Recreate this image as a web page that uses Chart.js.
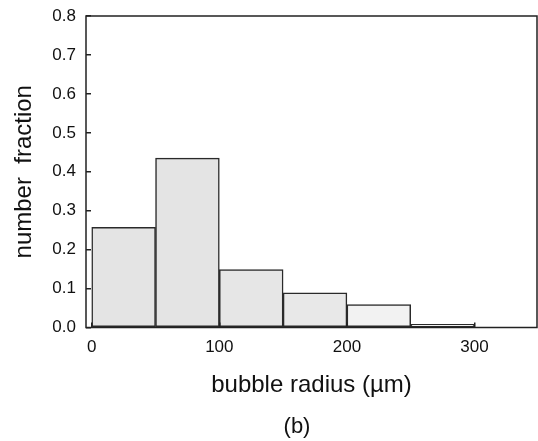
<!DOCTYPE html>
<html>
<head>
<meta charset="utf-8">
<script src="https://cdn.jsdelivr.net/npm/chart.js@4.4.1/dist/chart.umd.min.js"></script>
<style>
  html, body { margin: 0; padding: 0; background: #ffffff; }
  #wrap { width: 538px; height: 441px; position: relative; }
</style>
</head>
<body>
<div id="wrap"><canvas id="c"></canvas></div>
<script>
// ---- data ----
const binStarts = [0, 50, 100, 150, 200, 250];
const binWidth = 50;
const fractions = [0.257, 0.435, 0.149, 0.089, 0.059, 0.008];
const xTicks = [0, 100, 200, 300];
const xTickLabels = ['0', '100', '200', '300'];
const yTicks = [0, 0.1, 0.2, 0.3, 0.4, 0.5, 0.6, 0.7, 0.8];
const yTickLabels = ['0.0', '0.1', '0.2', '0.3', '0.4', '0.5', '0.6', '0.7', '0.8'];
const xTitle = 'bubble radius (\u00b5m)';
const yTitle = 'number  fraction';
const caption = '(b)';

const FONT = '"Liberation Sans", Arial, Helvetica, sans-serif';
const INK = '#111111';
const LINE = '#222222';

const barFills = ['#e4e4e4', '#e4e4e4', '#e6e6e6', '#e8e8e8', '#f2f2f2', '#ffffff'];

const framePlugin = {
  id: 'frame',
  afterDatasetsDraw(chart) {
    const { ctx, chartArea: a } = chart;
    ctx.save();
    ctx.strokeStyle = LINE;
    ctx.lineWidth = 1.5;
    ctx.strokeRect(a.left, a.top, a.right - a.left, a.bottom - a.top);
    ctx.restore();
  }
};

const captionPlugin = {
  id: 'caption',
  afterDraw(chart) {
    const { ctx, chartArea: a } = chart;
    ctx.save();
    ctx.font = '22px ' + FONT;
    ctx.fillStyle = INK;
    ctx.textAlign = 'center';
    ctx.textBaseline = 'alphabetic';
    ctx.fillText(caption, (a.left + a.right) / 2 - 14.5, chart.height - 8);
    ctx.restore();
  }
};

new Chart(document.getElementById('c'), {
  type: 'bar',
  data: {
    datasets: [{
      data: binStarts.map((s, i) => ({ x: s + binWidth / 2, y: fractions[i] })),
      backgroundColor: barFills,
      borderColor: '#2a2a2a',
      borderWidth: 1.5,
      borderSkipped: false,
      barPercentage: 1.0,
      categoryPercentage: 1.0
    }]
  },
  options: {
    responsive: true,
    maintainAspectRatio: false,
    animation: false,
    devicePixelRatio: 1,
    layout: { padding: { left: 0, right: 1, top: 16, bottom: 36 } },
    plugins: { legend: { display: false }, tooltip: { enabled: false }, title: { display: false } },
    scales: {
      x: {
        type: 'linear',
        min: -4.5,
        max: 349,
        offset: false,
        afterBuildTicks: (s) => { s.ticks = xTicks.map(v => ({ value: v })); },
        afterFit: (s) => { s.height = 77.5; s.paddingLeft = 0; s.paddingRight = 0; },
        grid: { display: true, offset: false, drawOnChartArea: false, drawTicks: true, tickLength: -5, color: LINE, tickColor: LINE, lineWidth: 1.5, z: 1 },
        border: { display: false },
        ticks: {
          autoSkip: false, maxRotation: 0, padding: 15,
          color: INK, font: { family: FONT, size: 17 },
          callback: (v, i) => xTickLabels[i]
        },
        title: { display: true, text: xTitle, color: INK, font: { family: FONT, size: 24 }, padding: { top: 0, bottom: 5 } }
      },
      y: {
        type: 'linear',
        min: 0,
        max: 0.8,
        afterBuildTicks: (s) => { s.ticks = yTicks.map(v => ({ value: v })); },
        afterFit: (s) => { s.width = 86; s.paddingTop = 0; s.paddingBottom = 0; },
        grid: { display: true, drawOnChartArea: false, drawTicks: true, tickLength: -5, color: LINE, tickColor: LINE, lineWidth: 1.5, z: 1 },
        border: { display: false },
        ticks: {
          autoSkip: false, padding: 15,
          color: INK, font: { family: FONT, size: 17 },
          callback: (v, i) => yTickLabels[i]
        },
        title: { display: true, text: yTitle, color: INK, font: { family: FONT, size: 24 }, padding: { top: 10, bottom: 0 } }
      }
    }
  },
  plugins: [framePlugin, captionPlugin]
});
</script>
</body>
</html>
